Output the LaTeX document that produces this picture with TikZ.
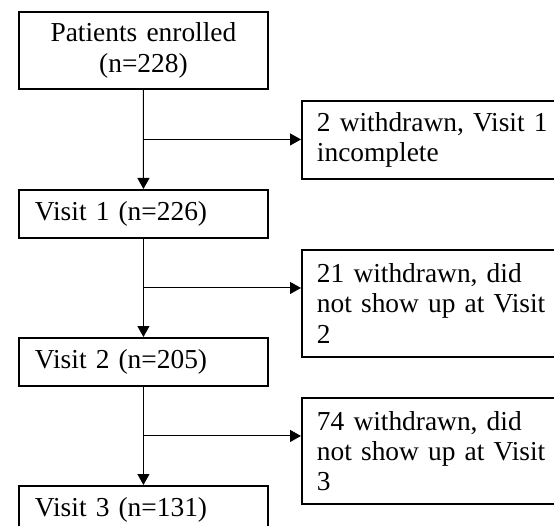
\documentclass[tikz,border=0pt]{standalone}
\usepackage{fontspec}
\setmainfont{Liberation Serif}
\usetikzlibrary{arrows.meta,calc}

\begin{document}
\begin{tikzpicture}[x=0.02cm,y=-0.02cm,
  box/.style={draw,line width=1.1pt,anchor=north west,inner ysep=0pt,
    font=\fontsize{15.6}{17.2}\selectfont},
  mainbox/.style={box,text width=4.34cm,inner xsep=0.32cm,align=left,minimum height=0.96cm},
  outbox/.style={box,text width=4.9cm,inner xsep=0.3cm,align=left},
  flow/.style={line width=0.6pt,-{Triangle[length=0.22cm,width=0.24cm]}}]
\useasboundingbox (0,0) rectangle (554,526);
\clip (0,0) rectangle (554,526);

% main column
\node[box,text width=4.98cm,inner xsep=0pt,align=center,minimum height=1.54cm] (enrol) at (18,11) {Patients enrolled\\(n=228)};
\node[mainbox] (v1) at (18,189) {Visit 1 (n=226)};
\node[mainbox] (v2) at (18,337) {Visit 2 (n=205)};
\node[mainbox] (v3) at (18,485) {Visit 3 (n=131)};

% withdrawals
\node[outbox,minimum height=1.56cm] (w1) at (301,100) {2 withdrawn, Visit 1\\incomplete};
\node[outbox,minimum height=2.14cm] (w2) at (301,249) {21 withdrawn, did\\not show up at Visit\\2};
\node[outbox,minimum height=2.12cm] (w3) at (301,397) {74 withdrawn, did\\not show up at Visit\\3};

\coordinate (b1) at ($(enrol.south)!0.5!(v1.north)$);
\coordinate (b2) at ($(v1.south)!0.5!(v2.north)$);
\coordinate (b3) at ($(v2.south)!0.5!(v3.north)$);

\draw[flow] (enrol) -- (v1);
\draw[flow] (v1) -- (v2);
\draw[flow] (v2) -- (v3);
\draw[flow] (b1) -- (b1 -| w1.west);
\draw[flow] (b2) -- (b2 -| w2.west);
\draw[flow] (b3) -- (b3 -| w3.west);
\end{tikzpicture}
\end{document}
